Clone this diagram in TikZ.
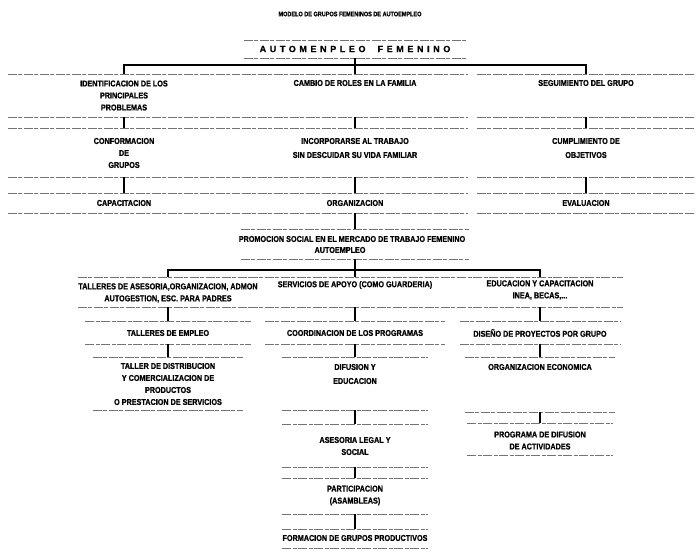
\documentclass[tikz,border=0pt]{standalone}
\usepackage{fontspec}
\setmainfont{Liberation Sans}
\newfontfamily\cond{Liberation Sans}[FakeStretch=0.85, BoldFeatures={FakeBold=0.8}]
\newfontfamily\spaced{Liberation Sans}[LetterSpace=40, BoldFeatures={FakeBold=0.8}]
\newcommand\bbox[5]{%
  \node[inner sep=0pt, minimum width=#5pt, minimum height={(#4-#3)*1pt}] (#1) at (#2,{(#3+#4)/2}) {};
  \draw[rule] (#1.north west) -- (#1.north east) (#1.south west) -- (#1.south east);}
\begin{document}
\begin{tikzpicture}[x=1pt,y=-1pt,
  lbl/.style={font=\cond\bfseries\fontsize{8.5}{12}\selectfont, inner sep=0pt, align=center},
  rule/.style={draw=black!55, line width=0.5pt, dash pattern=on 9pt off 1.5pt on 4pt off 1.5pt},
  conn/.style={draw=black, line width=1.1pt}]
\fill[white] (0,0) rectangle (697,554);
\useasboundingbox (0,0) rectangle (697,554);

\node[lbl, font=\cond\bfseries\fontsize{6.5}{8}\selectfont] (title) at (350,14) {MODELO DE GRUPOS FEMENINOS DE AUTOEMPLEO};

% boxes
\bbox{root}{355}{40}{58}{222}
\node[inner sep=0pt, font=\spaced\bfseries\fontsize{9}{10}\selectfont] (roott) at (355,49) {AUTOMENPLEO\hspace{6pt} FEMENINO};

\bbox{a1}{124}{74}{117}{232}
\bbox{b1}{355}{74}{117}{226}
\bbox{c1}{586}{74}{117}{218}
\node[lbl] (a1t) at (124,95.5) {IDENTIFICACION DE LOS\\PRINCIPALES\\PROBLEMAS};
\node[lbl] (b1t) at (355,83) {CAMBIO DE ROLES EN LA FAMILIA};
\node[lbl] (c1t) at (586,83) {SEGUIMIENTO DEL GRUPO};

\bbox{a2}{124}{128}{177}{232}
\bbox{b2}{355}{128}{177}{226}
\bbox{c2}{586}{128}{177}{218}
\node[lbl] (a2t) at (124,153) {CONFORMACION\\DE\\GRUPOS};
\node[lbl] (b2t) at (355,148) {INCORPORARSE AL TRABAJO\\[2pt]SIN DESCUIDAR SU VIDA FAMILIAR};
\node[lbl] (c2t) at (586,148) {CUMPLIMIENTO DE\\[2pt]OBJETIVOS};

\bbox{a3}{124}{193}{213}{232}
\bbox{b3}{355}{193}{213}{226}
\bbox{c3}{586}{193}{213}{218}
\node[lbl] (a3t) at (124,203) {CAPACITACION};
\node[lbl] (b3t) at (355,203) {ORGANIZACION};
\node[lbl] (c3t) at (586,203) {EVALUACION};

\bbox{p}{355}{229}{259}{228}
\node[lbl] (pt1) at (352,239) {PROMOCION SOCIAL EN EL MERCADO DE TRABAJO FEMENINO};
\node[lbl] (pt2) at (340,250) {AUTOEMPLEO};

\bbox{a4}{168}{277}{307}{180}
\bbox{b4}{355}{277}{307}{212}
\bbox{c4}{540}{277}{307}{165}
\node[lbl] (a4t) at (168,293) {TALLERES DE ASESORIA,ORGANIZACION, ADMON\\AUTOGESTION, ESC. PARA PADRES};
\node[lbl] (b4t) at (355,285) {SERVICIOS DE APOYO (COMO GUARDERIA)};
\node[lbl] (c4t) at (540,290) {EDUCACION Y CAPACITACION\\INEA, BECAS,...};

\bbox{a5}{168}{321}{344}{165}
\bbox{b5}{355}{321}{344}{180}
\bbox{c5}{540}{321}{344}{160}
\node[lbl] (a5t) at (168,333) {TALLERES DE EMPLEO};
\node[lbl] (b5t) at (355,333) {COORDINACION DE LOS PROGRAMAS};
\node[lbl] (c5t) at (540,333) {DISEÑO DE PROYECTOS POR GRUPO};

\bbox{a6}{168}{357}{410}{150}
\bbox{b6}{355}{357}{410}{145}
\bbox{c6}{540}{357}{412}{150}
\node[lbl] (a6t) at (168,384) {TALLER DE DISTRIBUCION\\Y COMERCIALIZACION DE\\PRODUCTOS\\O PRESTACION DE SERVICIOS};
\node[lbl] (b6t) at (355,374) {DIFUSION Y\\[2pt]EDUCACION};
\node[lbl] (c6t) at (540,367) {ORGANIZACION ECONOMICA};

\bbox{b7}{355}{424}{467}{145}
\bbox{c7}{540}{423}{455}{145}
\node[lbl] (b7t) at (355,446) {ASESORIA LEGAL Y\\SOCIAL};
\node[lbl] (c7t) at (540,440.5) {PROGRAMA DE DIFUSION\\DE ACTIVIDADES};

\bbox{b8}{355}{478}{514}{145}
\node[lbl] (b8t) at (355,495.5) {PARTICIPACION\\(ASAMBLEAS)};

\bbox{b9}{355}{529}{548}{145}
\node[lbl] (b9t) at (355,538) {FORMACION DE GRUPOS PRODUCTIVOS};

% connectors
\coordinate (bar1) at (0,65);
\coordinate (bar2) at (0,270);
\draw[conn] (root.south) -- (root.south |- bar1);
\draw[conn] (a1.north) -- (a1.north |- bar1) -- (c1.north |- bar1) -- (c1.north);
\draw[conn] (b1.north) -- (b1.north |- bar1);
\foreach \u/\v in {a1/a2,b1/b2,c1/c2,a2/a3,b2/b3,c2/c3,b3/p,a4/a5,a5/a6,b4/b5,b5/b6,b6/b7,b7/b8,b8/b9,c4/c5,c5/c6,c6/c7}
  \draw[conn] (\u.south) -- (\v.north);
\draw[conn] (p.south) -- (p.south |- bar2);
\draw[conn] (a4.north) -- (a4.north |- bar2) -- (c4.north |- bar2) -- (c4.north);
\draw[conn] (b4.north) -- (b4.north |- bar2);
\end{tikzpicture}
\end{document}
